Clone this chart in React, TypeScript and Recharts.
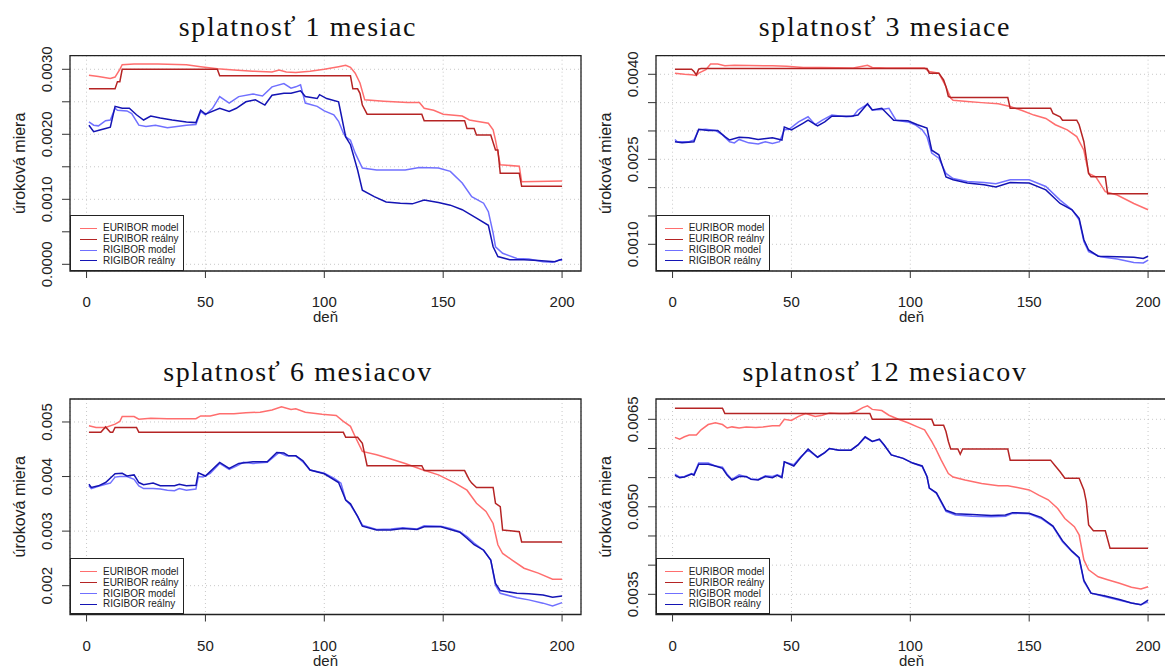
import React from 'react';
import { LineChart, Line, XAxis, YAxis, CartesianGrid, ReferenceArea, Legend } from 'recharts';

type Pt = [number, number];

const seriesNames = ['EURIBOR model', 'EURIBOR reálny', 'RIGIBOR model', 'RIGIBOR reálny'];
const seriesColors = ['#FF6E6E', '#B52424', '#7070FF', '#1414B4'];

const xTicks = [0, 50, 100, 150, 200];
const xDomain: [number, number] = [-6.96, 207.96];

// ---------- Panel 1: splatnosť 1 mesiac ----------
const p1Title = 'splatnosť 1 mesiac';
const p1YTicks = [0, 0.0005, 0.001, 0.0015, 0.002, 0.0025, 0.003];
const p1YLabels = ['0.0000', '', '0.0010', '', '0.0020', '', '0.0030'];
const p1YDomain: [number, number] = [-0.000103, 0.003209];
const p1EuriborModel: Pt[] = [[1,0.00291],[5,0.00289],[10,0.00286],[12,0.00288],[14,0.003],[15,0.00307],[20,0.00308],[30,0.00308],[42,0.00307],[48,0.00304],[55,0.00301],[62,0.00299],[70,0.00297],[78,0.00296],[81,0.00299],[84,0.00296],[88,0.00295],[94,0.00297],[100,0.003],[106,0.00304],[109,0.00306],[111,0.00303],[113,0.00294],[115,0.00279],[117,0.00253],[125,0.00251],[135,0.00249],[140,0.00249],[142,0.0024],[146,0.00237],[150,0.00231],[158,0.00228],[161,0.00222],[164,0.0022],[169,0.00217],[171,0.00207],[172,0.00191],[174,0.00153],[182,0.00151],[183,0.00127],[200,0.00128]];
const p1EuriborReal: Pt[] = [[1,0.0027],[12,0.0027],[13,0.00281],[14,0.00281],[15,0.003],[55,0.003],[56,0.0029],[111,0.0029],[112,0.0027],[114,0.0027],[115,0.00263],[116,0.00245],[118,0.00231],[141,0.00231],[142,0.00221],[159,0.00221],[160,0.00209],[163,0.00209],[164,0.00199],[170,0.00199],[172,0.00176],[173,0.00176],[174,0.0014],[182,0.0014],[183,0.0012],[200,0.0012]];
const p1RigiborModel: Pt[] = [[1,0.00219],[3,0.00214],[5,0.00213],[8,0.00221],[10,0.00222],[12,0.0024],[13,0.00237],[17,0.00236],[19,0.00232],[22,0.00214],[25,0.00212],[29,0.00214],[34,0.0021],[38,0.00212],[42,0.00214],[46,0.00215],[48,0.00235],[50,0.0023],[53,0.0024],[56,0.00258],[60,0.00248],[64,0.00258],[70,0.00262],[74,0.00259],[78,0.00273],[83,0.00278],[86,0.00271],[88,0.00273],[90,0.00276],[92,0.00248],[97,0.00243],[100,0.00236],[104,0.0023],[106,0.0022],[108,0.00202],[109,0.00196],[111,0.00191],[113,0.00171],[116,0.00148],[122,0.00145],[128,0.00145],[134,0.00145],[140,0.00149],[148,0.00148],[153,0.00143],[158,0.00125],[162,0.00104],[167,0.00094],[169,0.00081],[171,0.00048],[172,0.00027],[175,0.00017],[181,0.00009],[186,0.00008],[192,0.00004],[196,0.00003],[199,0.00007],[200,0.00006]];
const p1RigiborReal: Pt[] = [[1,0.00214],[3,0.00204],[6,0.00207],[8,0.00209],[10,0.00211],[12,0.00243],[15,0.0024],[18,0.0024],[21,0.0023],[24,0.00222],[27,0.00228],[31,0.00225],[36,0.00222],[42,0.00219],[46,0.00218],[48,0.00237],[50,0.00231],[56,0.0024],[60,0.00235],[63,0.0024],[67,0.0025],[71,0.00253],[75,0.00245],[78,0.0026],[83,0.00263],[86,0.00263],[90,0.00267],[92,0.00258],[97,0.00255],[98,0.00261],[101,0.00255],[106,0.0025],[107,0.00232],[109,0.00196],[111,0.00184],[114,0.00145],[116,0.00114],[121,0.00104],[126,0.00096],[132,0.00094],[137,0.00093],[142,0.00099],[148,0.00095],[153,0.00091],[158,0.00084],[164,0.00071],[169,0.0006],[171,0.00027],[173,0.00012],[178,0.00007],[184,0.00007],[190,0.00006],[197,0.00004],[200,0.00008]];

// ---------- Panel 2: splatnosť 3 mesiace ----------
const p2Title = 'splatnosť 3 mesiace';
const p2YTicks = [0.001, 0.0015, 0.002, 0.0025, 0.003, 0.0035, 0.004];
const p2YLabels = ['0.0010', '', '', '0.0025', '', '', '0.0040'];
const p2YDomain: [number, number] = [0.000529, 0.004328];
const p2EuriborModel: Pt[] = [[1,0.00402],[5,0.004],[8,0.00399],[10,0.00398],[11,0.00402],[14,0.00408],[16,0.00418],[19,0.00418],[22,0.00415],[26,0.00416],[42,0.00415],[48,0.00414],[55,0.00412],[62,0.00412],[76,0.00411],[82,0.00416],[84,0.00412],[90,0.00411],[106,0.00411],[108,0.00405],[112,0.00402],[115,0.00378],[117,0.00358],[118,0.00354],[124,0.00352],[130,0.0035],[137,0.00348],[142,0.00343],[147,0.00336],[152,0.00328],[157,0.00322],[161,0.00311],[166,0.00302],[170,0.0029],[173,0.00266],[175,0.00225],[178,0.00219],[182,0.00193],[187,0.00187],[194,0.00172],[200,0.00161]];
const p2EuriborReal: Pt[] = [[1,0.00409],[8,0.00409],[9,0.00405],[10,0.00399],[11,0.00409],[12,0.0041],[107,0.0041],[108,0.00402],[112,0.00402],[114,0.0039],[115,0.00378],[116,0.00361],[117,0.00359],[141,0.00359],[142,0.0034],[159,0.0034],[160,0.00331],[163,0.00325],[164,0.00319],[170,0.00319],[171,0.00311],[173,0.00281],[175,0.00225],[176,0.00219],[182,0.00219],[183,0.00189],[200,0.00189]];
const p2RigiborModel: Pt[] = [[1,0.00285],[2,0.00281],[7,0.00281],[9,0.00284],[11,0.00302],[14,0.00303],[18,0.00301],[21,0.00293],[24,0.00281],[26,0.00279],[28,0.00285],[32,0.00279],[36,0.00277],[39,0.00281],[42,0.00278],[45,0.00281],[47,0.00302],[49,0.00303],[53,0.00316],[57,0.00325],[60,0.00311],[63,0.00319],[67,0.00328],[73,0.00325],[76,0.00326],[78,0.00337],[82,0.00347],[84,0.00337],[88,0.00338],[91,0.0034],[94,0.00319],[99,0.00316],[102,0.00311],[105,0.00302],[107,0.0029],[109,0.00261],[112,0.00252],[115,0.00225],[118,0.00216],[124,0.00211],[131,0.00209],[136,0.00207],[142,0.00214],[150,0.00214],[157,0.00202],[163,0.00178],[168,0.00161],[171,0.00143],[173,0.00105],[175,0.00087],[180,0.00078],[187,0.00074],[194,0.00068],[198,0.00067],[200,0.00072]];
const p2RigiborReal: Pt[] = [[1,0.00281],[4,0.00279],[9,0.00281],[11,0.00303],[15,0.00301],[19,0.00301],[22,0.0029],[24,0.00284],[28,0.00289],[32,0.00288],[36,0.00285],[42,0.00288],[46,0.00284],[47,0.00307],[50,0.00302],[55,0.00314],[57,0.00319],[61,0.00309],[64,0.00316],[67,0.00326],[75,0.00326],[78,0.00328],[82,0.00348],[84,0.00337],[88,0.0034],[93,0.00319],[99,0.00318],[103,0.00311],[107,0.00305],[109,0.00266],[112,0.00258],[115,0.00219],[118,0.00214],[124,0.00208],[131,0.00205],[136,0.00201],[142,0.00209],[150,0.00208],[157,0.00196],[163,0.00172],[168,0.00161],[171,0.00146],[173,0.00108],[175,0.0009],[179,0.00079],[187,0.00078],[194,0.00077],[198,0.00075],[200,0.00079]];

// ---------- Panel 3: splatnosť 6 mesiacov ----------
const p3Title = 'splatnosť 6 mesiacov';
const p3YTicks = [0.002, 0.003, 0.004, 0.005];
const p3YLabels = ['0.002', '0.003', '0.004', '0.005'];
const p3YDomain: [number, number] = [0.001472, 0.005421];
const p3EuriborModel: Pt[] = [[1,0.00493],[4,0.0049],[8,0.0049],[12,0.00496],[14,0.00501],[15,0.0051],[20,0.0051],[22,0.00505],[27,0.00507],[34,0.00506],[41,0.00506],[46,0.00506],[48,0.00511],[52,0.00511],[56,0.00515],[62,0.00515],[67,0.00517],[73,0.00518],[78,0.00522],[82,0.00528],[86,0.00523],[88,0.00524],[92,0.00518],[99,0.00514],[105,0.00512],[108,0.00501],[111,0.00492],[113,0.00473],[116,0.00446],[122,0.0044],[128,0.00432],[134,0.00424],[141,0.00413],[148,0.00403],[155,0.00388],[160,0.00375],[164,0.00351],[168,0.00336],[171,0.00314],[173,0.00275],[175,0.00259],[179,0.00247],[184,0.00232],[190,0.00223],[196,0.00212],[200,0.00212]];
const p3EuriborReal: Pt[] = [[1,0.00481],[6,0.00481],[8,0.00491],[10,0.00481],[11,0.00481],[12,0.0049],[21,0.0049],[22,0.00481],[108,0.00481],[109,0.00472],[114,0.00472],[116,0.00461],[118,0.0042],[141,0.0042],[142,0.00411],[159,0.00411],[161,0.00394],[162,0.00388],[164,0.0038],[171,0.0038],[172,0.00351],[174,0.00345],[175,0.00302],[182,0.00299],[183,0.0028],[200,0.0028]];
const p3RigiborModel: Pt[] = [[1,0.00383],[2,0.00378],[5,0.00382],[8,0.00386],[10,0.00388],[12,0.00399],[14,0.004],[17,0.004],[20,0.00395],[22,0.00383],[24,0.00378],[28,0.00378],[31,0.00377],[34,0.00375],[37,0.00374],[39,0.00378],[42,0.00375],[46,0.00377],[47,0.004],[49,0.00399],[52,0.00406],[56,0.00424],[60,0.00413],[63,0.00419],[66,0.00426],[70,0.00424],[76,0.00426],[79,0.00437],[81,0.00444],[84,0.00438],[88,0.00438],[91,0.00427],[94,0.00412],[100,0.00406],[104,0.00397],[107,0.00388],[109,0.00357],[111,0.00348],[114,0.00327],[116,0.00311],[122,0.00303],[128,0.00304],[133,0.00306],[139,0.00304],[142,0.0031],[149,0.00309],[153,0.00305],[157,0.00299],[160,0.0029],[163,0.00278],[167,0.00265],[170,0.00247],[172,0.00201],[174,0.00186],[181,0.00178],[186,0.00174],[192,0.00168],[196,0.00163],[200,0.00169]];
const p3RigiborReal: Pt[] = [[1,0.00386],[2,0.0038],[5,0.00383],[8,0.00389],[12,0.00405],[15,0.00406],[17,0.00401],[20,0.00403],[22,0.00389],[24,0.00385],[28,0.00388],[31,0.00383],[37,0.00383],[39,0.00386],[42,0.00383],[46,0.00384],[47,0.00407],[50,0.00401],[56,0.00426],[60,0.00415],[64,0.00424],[70,0.00427],[76,0.00427],[80,0.00444],[83,0.00443],[85,0.00438],[88,0.00438],[91,0.00429],[94,0.00412],[100,0.00405],[106,0.00389],[109,0.00357],[111,0.0035],[114,0.00327],[116,0.00309],[122,0.00302],[128,0.00302],[133,0.00305],[139,0.00303],[142,0.00308],[149,0.00308],[153,0.00303],[157,0.00298],[160,0.00287],[163,0.00275],[167,0.00265],[170,0.00247],[172,0.00204],[174,0.00191],[181,0.00186],[186,0.00185],[192,0.00183],[196,0.00179],[200,0.00181]];

// ---------- Panel 4: splatnosť 12 mesiacov ----------
const p4Title = 'splatnosť 12 mesiacov';
const p4YTicks = [0.0035, 0.004, 0.0045, 0.005, 0.0055, 0.006, 0.0065];
const p4YLabels = ['0.0035', '', '', '0.0050', '', '', '0.0065'];
const p4YDomain: [number, number] = [0.003154, 0.006848];
const p4EuriborModel: Pt[] = [[1,0.00619],[3,0.00616],[5,0.0062],[7,0.00623],[10,0.00623],[12,0.00632],[15,0.00641],[18,0.00644],[21,0.00641],[23,0.00635],[25,0.00637],[28,0.00635],[31,0.00637],[35,0.00636],[38,0.00637],[42,0.00639],[45,0.00639],[47,0.0065],[50,0.00648],[53,0.00655],[56,0.0066],[60,0.00655],[63,0.00657],[66,0.00661],[70,0.0066],[74,0.0066],[77,0.00663],[80,0.0067],[82,0.00673],[84,0.00667],[88,0.00665],[91,0.00657],[95,0.0065],[99,0.00644],[103,0.00637],[106,0.00632],[109,0.00612],[111,0.00597],[113,0.0058],[116,0.00557],[118,0.00551],[123,0.00546],[130,0.0054],[137,0.00536],[141,0.00536],[145,0.00533],[150,0.00529],[154,0.0052],[158,0.00512],[162,0.00497],[165,0.0048],[169,0.00466],[171,0.00452],[173,0.00409],[175,0.00392],[179,0.0038],[183,0.00375],[188,0.00369],[193,0.00362],[197,0.00359],[200,0.00363]];
const p4EuriborReal: Pt[] = [[1,0.00669],[21,0.00669],[22,0.0066],[83,0.0066],[84,0.0065],[109,0.0065],[110,0.0064],[114,0.0064],[115,0.00629],[116,0.00612],[117,0.00599],[120,0.00599],[121,0.0059],[122,0.00599],[141,0.00599],[142,0.0058],[159,0.0058],[161,0.0057],[163,0.0056],[165,0.00549],[171,0.00549],[173,0.00529],[174,0.00509],[175,0.00469],[177,0.00459],[182,0.00459],[184,0.00429],[200,0.00429]];
const p4RigiborModel: Pt[] = [[1,0.00556],[3,0.00551],[5,0.00552],[8,0.00557],[9,0.00556],[11,0.00575],[15,0.00575],[18,0.0057],[21,0.00568],[23,0.00556],[25,0.00547],[28,0.00555],[31,0.00551],[33,0.00548],[36,0.00547],[39,0.00553],[42,0.00552],[44,0.00555],[46,0.00552],[47,0.00577],[51,0.00572],[54,0.00586],[57,0.00597],[61,0.00585],[64,0.00593],[66,0.006],[70,0.00597],[75,0.00597],[78,0.00606],[81,0.00619],[84,0.00612],[87,0.00615],[89,0.00606],[92,0.00589],[97,0.00583],[101,0.00575],[105,0.00569],[107,0.00552],[108,0.00532],[111,0.00523],[115,0.00492],[119,0.00486],[126,0.00484],[134,0.00483],[140,0.00484],[143,0.00489],[150,0.00488],[155,0.0048],[160,0.00466],[164,0.0044],[168,0.00423],[171,0.00412],[173,0.00372],[176,0.00352],[182,0.00346],[188,0.0034],[193,0.00335],[197,0.00332],[200,0.00337]];
const p4RigiborReal: Pt[] = [[1,0.00554],[3,0.0055],[5,0.00551],[8,0.00556],[9,0.00554],[11,0.00573],[15,0.00573],[18,0.0057],[21,0.00566],[23,0.00554],[25,0.00546],[28,0.00552],[31,0.00552],[33,0.00547],[36,0.00546],[39,0.00552],[42,0.0055],[44,0.00554],[46,0.0055],[47,0.00577],[51,0.0057],[54,0.00585],[57,0.00599],[61,0.00585],[64,0.00593],[66,0.006],[70,0.00597],[75,0.00597],[78,0.00606],[81,0.0062],[84,0.00612],[87,0.00616],[89,0.00606],[92,0.00589],[97,0.00583],[101,0.00575],[105,0.0057],[107,0.00552],[108,0.00532],[111,0.00524],[115,0.00494],[119,0.00488],[126,0.00487],[134,0.00485],[140,0.00486],[143,0.0049],[150,0.00489],[155,0.00482],[160,0.00467],[164,0.00442],[168,0.00424],[171,0.00413],[173,0.00374],[176,0.00352],[182,0.00347],[188,0.00341],[193,0.00335],[197,0.00332],[200,0.0034]];

const FONT_SANS = "'Liberation Sans', Arial, Helvetica, sans-serif";
const FONT_SERIF = "'Liberation Serif', 'Times New Roman', serif";

const toData = (pts: Pt[]) => pts.map(([d, v]) => ({ d, v }));

interface PanelDef {
  title: string;
  yTicks: number[];
  yLabels: string[];
  yDomain: [number, number];
  series: Pt[][];
  left: number;
  top: number;
  row: number;
  titleX: number;
}

const panels: PanelDef[] = [
  { title: p1Title, yTicks: p1YTicks, yLabels: p1YLabels, yDomain: p1YDomain, series: [p1EuriborModel, p1EuriborReal, p1RigiborModel, p1RigiborReal], left: 0, top: 0, row: 0, titleX: 298 },
  { title: p2Title, yTicks: p2YTicks, yLabels: p2YLabels, yDomain: p2YDomain, series: [p2EuriborModel, p2EuriborReal, p2RigiborModel, p2RigiborReal], left: 585.7, top: 0, row: 0, titleX: 885 },
  { title: p3Title, yTicks: p3YTicks, yLabels: p3YLabels, yDomain: p3YDomain, series: [p3EuriborModel, p3EuriborReal, p3RigiborModel, p3RigiborReal], left: 0, top: 340, row: 1, titleX: 298 },
  { title: p4Title, yTicks: p4YTicks, yLabels: p4YLabels, yDomain: p4YDomain, series: [p4EuriborModel, p4EuriborReal, p4RigiborModel, p4RigiborReal], left: 585.7, top: 340, row: 1, titleX: 885 },
];

const YAW = 70; // y-axis width
const PLOT_W = 511;
const RIGHT_M = 19;
const CHART_W = YAW + PLOT_W + RIGHT_M;
const CHART_H = 330;
const ROW_MARGIN_TOP = [55.7, 59];
const ROW_XAXIS_H = [59, 55.5];
const TITLE_BASE = [35.7, 380.7];
const LEG_W = 114;
const LEG_H = 56.3;

const makeYTick = (ticks: number[], labels: string[]) => (props: any) => {
  const { x, y, payload } = props;
  const i = ticks.findIndex((t) => Math.abs(t - payload.value) < 1e-9);
  const label = i >= 0 ? labels[i] : '';
  if (!label) return <g />;
  return (
    <text x={x} y={y} transform={`rotate(-90 ${x} ${y})`} textAnchor="middle" fontSize={15} fontFamily={FONT_SANS} fill="#222">
      {label}
    </text>
  );
};

const XTick = (props: any) => {
  const { x, y, payload } = props;
  return (
    <text x={x} y={y + 27} textAnchor="middle" fontSize={15} fontFamily={FONT_SANS} fill="#222">
      {payload.value}
    </text>
  );
};

const LegendBox = () => (
  <div
    style={{
      width: LEG_W,
      height: LEG_H,
      border: '1px solid #222',
      background: '#fff',
      boxSizing: 'border-box',
      position: 'relative',
      fontFamily: FONT_SANS,
      fontSize: 10,
      color: '#222',
    }}
  >
    {seriesNames.map((n, i) => (
      <div key={n} style={{ position: 'absolute', left: 0, top: 6.8 + i * 10.8, height: 12, display: 'flex', alignItems: 'center' }}>
        <span style={{ display: 'inline-block', marginLeft: 8.7, width: 17.6, height: 0, borderTop: `1.5px solid ${seriesColors[i]}` }} />
        <span style={{ marginLeft: 5.7, lineHeight: '12px', whiteSpace: 'nowrap' }}>{n}</span>
      </div>
    ))}
  </div>
);

function Panel({ p }: { p: PanelDef }) {
  const mTop = ROW_MARGIN_TOP[p.row];
  const xh = ROW_XAXIS_H[p.row];
  const plotTop = mTop;
  const plotBottom = CHART_H - xh;
  const plotMidY = (plotTop + plotBottom) / 2;
  const legendTop = plotBottom - LEG_H;
  return (
    <div style={{ position: 'absolute', left: p.left, top: p.top }}>
      <LineChart width={CHART_W} height={CHART_H} margin={{ top: mTop, right: RIGHT_M, bottom: 0, left: 0 }}>
        <CartesianGrid stroke="#C8C8C8" strokeDasharray="1 3" strokeWidth={1} />
        <XAxis
          type="number"
          dataKey="d"
          domain={xDomain}
          ticks={xTicks}
          allowDataOverflow
          interval={0}
          height={xh}
          tickSize={7}
          tickMargin={2}
          axisLine={false}
          tickLine={{ stroke: '#333', strokeWidth: 1 }}
          tick={XTick}
          label={() => (
            <text x={YAW + PLOT_W / 2} y={plotBottom + 51} textAnchor="middle" fontSize={15} fontFamily={FONT_SANS} fill="#222">
              deň
            </text>
          )}
        />
        <YAxis
          type="number"
          domain={p.yDomain}
          ticks={p.yTicks}
          allowDataOverflow
          interval={0}
          width={YAW}
          tickSize={8}
          tickMargin={10}
          axisLine={false}
          tickLine={{ stroke: '#333', strokeWidth: 1 }}
          tick={makeYTick(p.yTicks, p.yLabels)}
          label={() => (
            <text x={25} y={plotMidY} transform={`rotate(-90 25 ${plotMidY})`} textAnchor="middle" fontSize={16} fontFamily={FONT_SANS} fill="#222">
              úroková miera
            </text>
          )}
        />
        {p.series.map((s, i) => (
          <Line
            key={seriesNames[i]}
            name={seriesNames[i]}
            data={toData(s)}
            dataKey="v"
            type="linear"
            stroke={seriesColors[i]}
            strokeWidth={1.5}
            dot={false}
            activeDot={false}
            isAnimationActive={false}
          />
        ))}
        <ReferenceArea x1={xDomain[0]} x2={xDomain[1]} y1={p.yDomain[0]} y2={p.yDomain[1]} fill="none" fillOpacity={0} stroke="#222" strokeWidth={1.3} ifOverflow="visible" />
        <Legend
          layout="vertical"
          align="center"
          verticalAlign="middle"
          wrapperStyle={{ position: 'absolute', left: YAW, top: legendTop, width: LEG_W, height: LEG_H, right: 'auto', bottom: 'auto' }}
          content={() => <LegendBox />}
        />
      </LineChart>
    </div>
  );
}

export default function App() {
  return (
    <div style={{ position: 'absolute', left: 0, top: 0, width: 1165, height: 670, overflow: 'hidden', background: '#fff' }}>
      {panels.map((p) => (
        <Panel key={p.title} p={p} />
      ))}
      <svg width={1165} height={670} style={{ position: 'absolute', left: 0, top: 0, pointerEvents: 'none' }}>
        {panels.map((p) => (
          <text key={p.title} x={p.titleX} y={TITLE_BASE[p.row]} textAnchor="middle" fontSize={28} letterSpacing={1.6} fontFamily={FONT_SERIF} fill="#111">
            {p.title}
          </text>
        ))}
      </svg>
    </div>
  );
}
